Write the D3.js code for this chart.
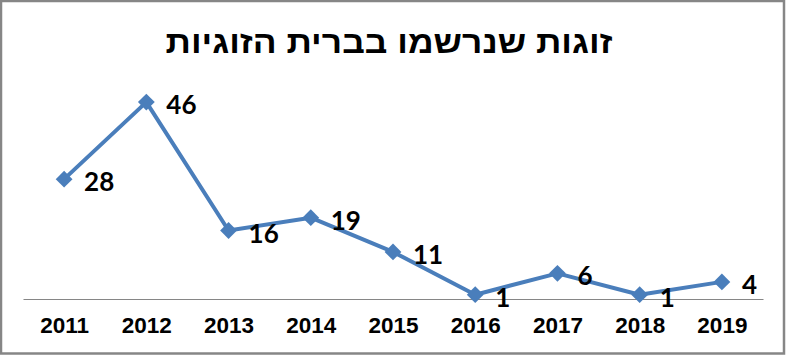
<!DOCTYPE html>
<html>
<head>
<meta charset="utf-8">
<script src="https://cdn.jsdelivr.net/npm/d3@7"></script>
<style>
  body { margin: 0; background: #fff; }
  svg { display: block; }
</style>
</head>
<body>
<div id="chart"></div>
<script>
const years = ["2011", "2012", "2013", "2014", "2015", "2016", "2017", "2018", "2019"];
const couples = [28, 46, 16, 19, 11, 1, 6, 1, 4];
const chartTitle = "זוגות שנרשמו בברית הזוגיות";

const width = 786, height = 355;
const margin = { top: 85, right: 23, bottom: 56, left: 23 };
const innerW = width - margin.left - margin.right;
const innerH = height - margin.top - margin.bottom;
const lineColor = "#4a7ebb";

const svg = d3.select("#chart").append("svg")
  .attr("width", width)
  .attr("height", height);

svg.append("rect")
  .attr("x", 1)
  .attr("y", 1)
  .attr("width", width - 3)
  .attr("height", height - 2.5)
  .attr("fill", "#fff")
  .attr("stroke", "#868686")
  .attr("stroke-width", 2.5);

// title font is condensed in the original, so squeeze it to the measured width
svg.append("text")
  .attr("x", 389)
  .attr("y", 53)
  .attr("text-anchor", "middle")
  .attr("font-family", "'Liberation Sans', Arial, sans-serif")
  .attr("font-weight", "bold")
  .attr("font-size", 31.5)
  .attr("direction", "rtl")
  .attr("textLength", 447)
  .attr("lengthAdjust", "spacingAndGlyphs")
  .text(chartTitle);

const chart = svg.append("g")
  .attr("transform", `translate(${margin.left},${margin.top})`);

const x = d3.scalePoint()
  .domain(years)
  .range([0, innerW])
  .padding(0.5);

const y = d3.scaleLinear()
  .domain([0, 50])
  .range([innerH, 0]);

const xAxis = chart.append("g")
  .attr("transform", `translate(0,${innerH})`)
  .call(d3.axisBottom(x).tickSize(0).tickPadding(18));

xAxis.select(".domain")
  .attr("stroke", "#868686")
  .attr("stroke-width", 1.2);

xAxis.selectAll("text")
  .attr("font-family", "'Liberation Sans', Arial, sans-serif")
  .attr("font-weight", "bold")
  .attr("font-size", 22.5)
  .attr("fill", "#000");

const line = d3.line()
  .x((d, i) => x(years[i]))
  .y((d) => y(d));

chart.append("path")
  .datum(couples)
  .attr("fill", "none")
  .attr("stroke", lineColor)
  .attr("stroke-width", 4)
  .attr("stroke-linejoin", "round")
  .attr("d", line);

const diamond = d3.symbol().type(d3.symbolDiamond2).size(180);

chart.selectAll(".marker")
  .data(couples)
  .join("path")
  .attr("class", "marker")
  .attr("transform", (d, i) => `translate(${x(years[i])},${y(d)})`)
  .attr("d", diamond)
  .attr("fill", lineColor);

chart.selectAll(".value")
  .data(couples)
  .join("text")
  .attr("class", "value")
  .attr("x", (d, i) => x(years[i]) + 20)
  .attr("y", (d) => y(d) + 3)
  .attr("dy", "0.35em")
  .attr("font-family", "Lato, 'Open Sans', sans-serif")
  .attr("font-weight", "bold")
  .attr("font-size", 26)
  .attr("fill", "#000")
  .text((d) => d);
</script>
</body>
</html>
